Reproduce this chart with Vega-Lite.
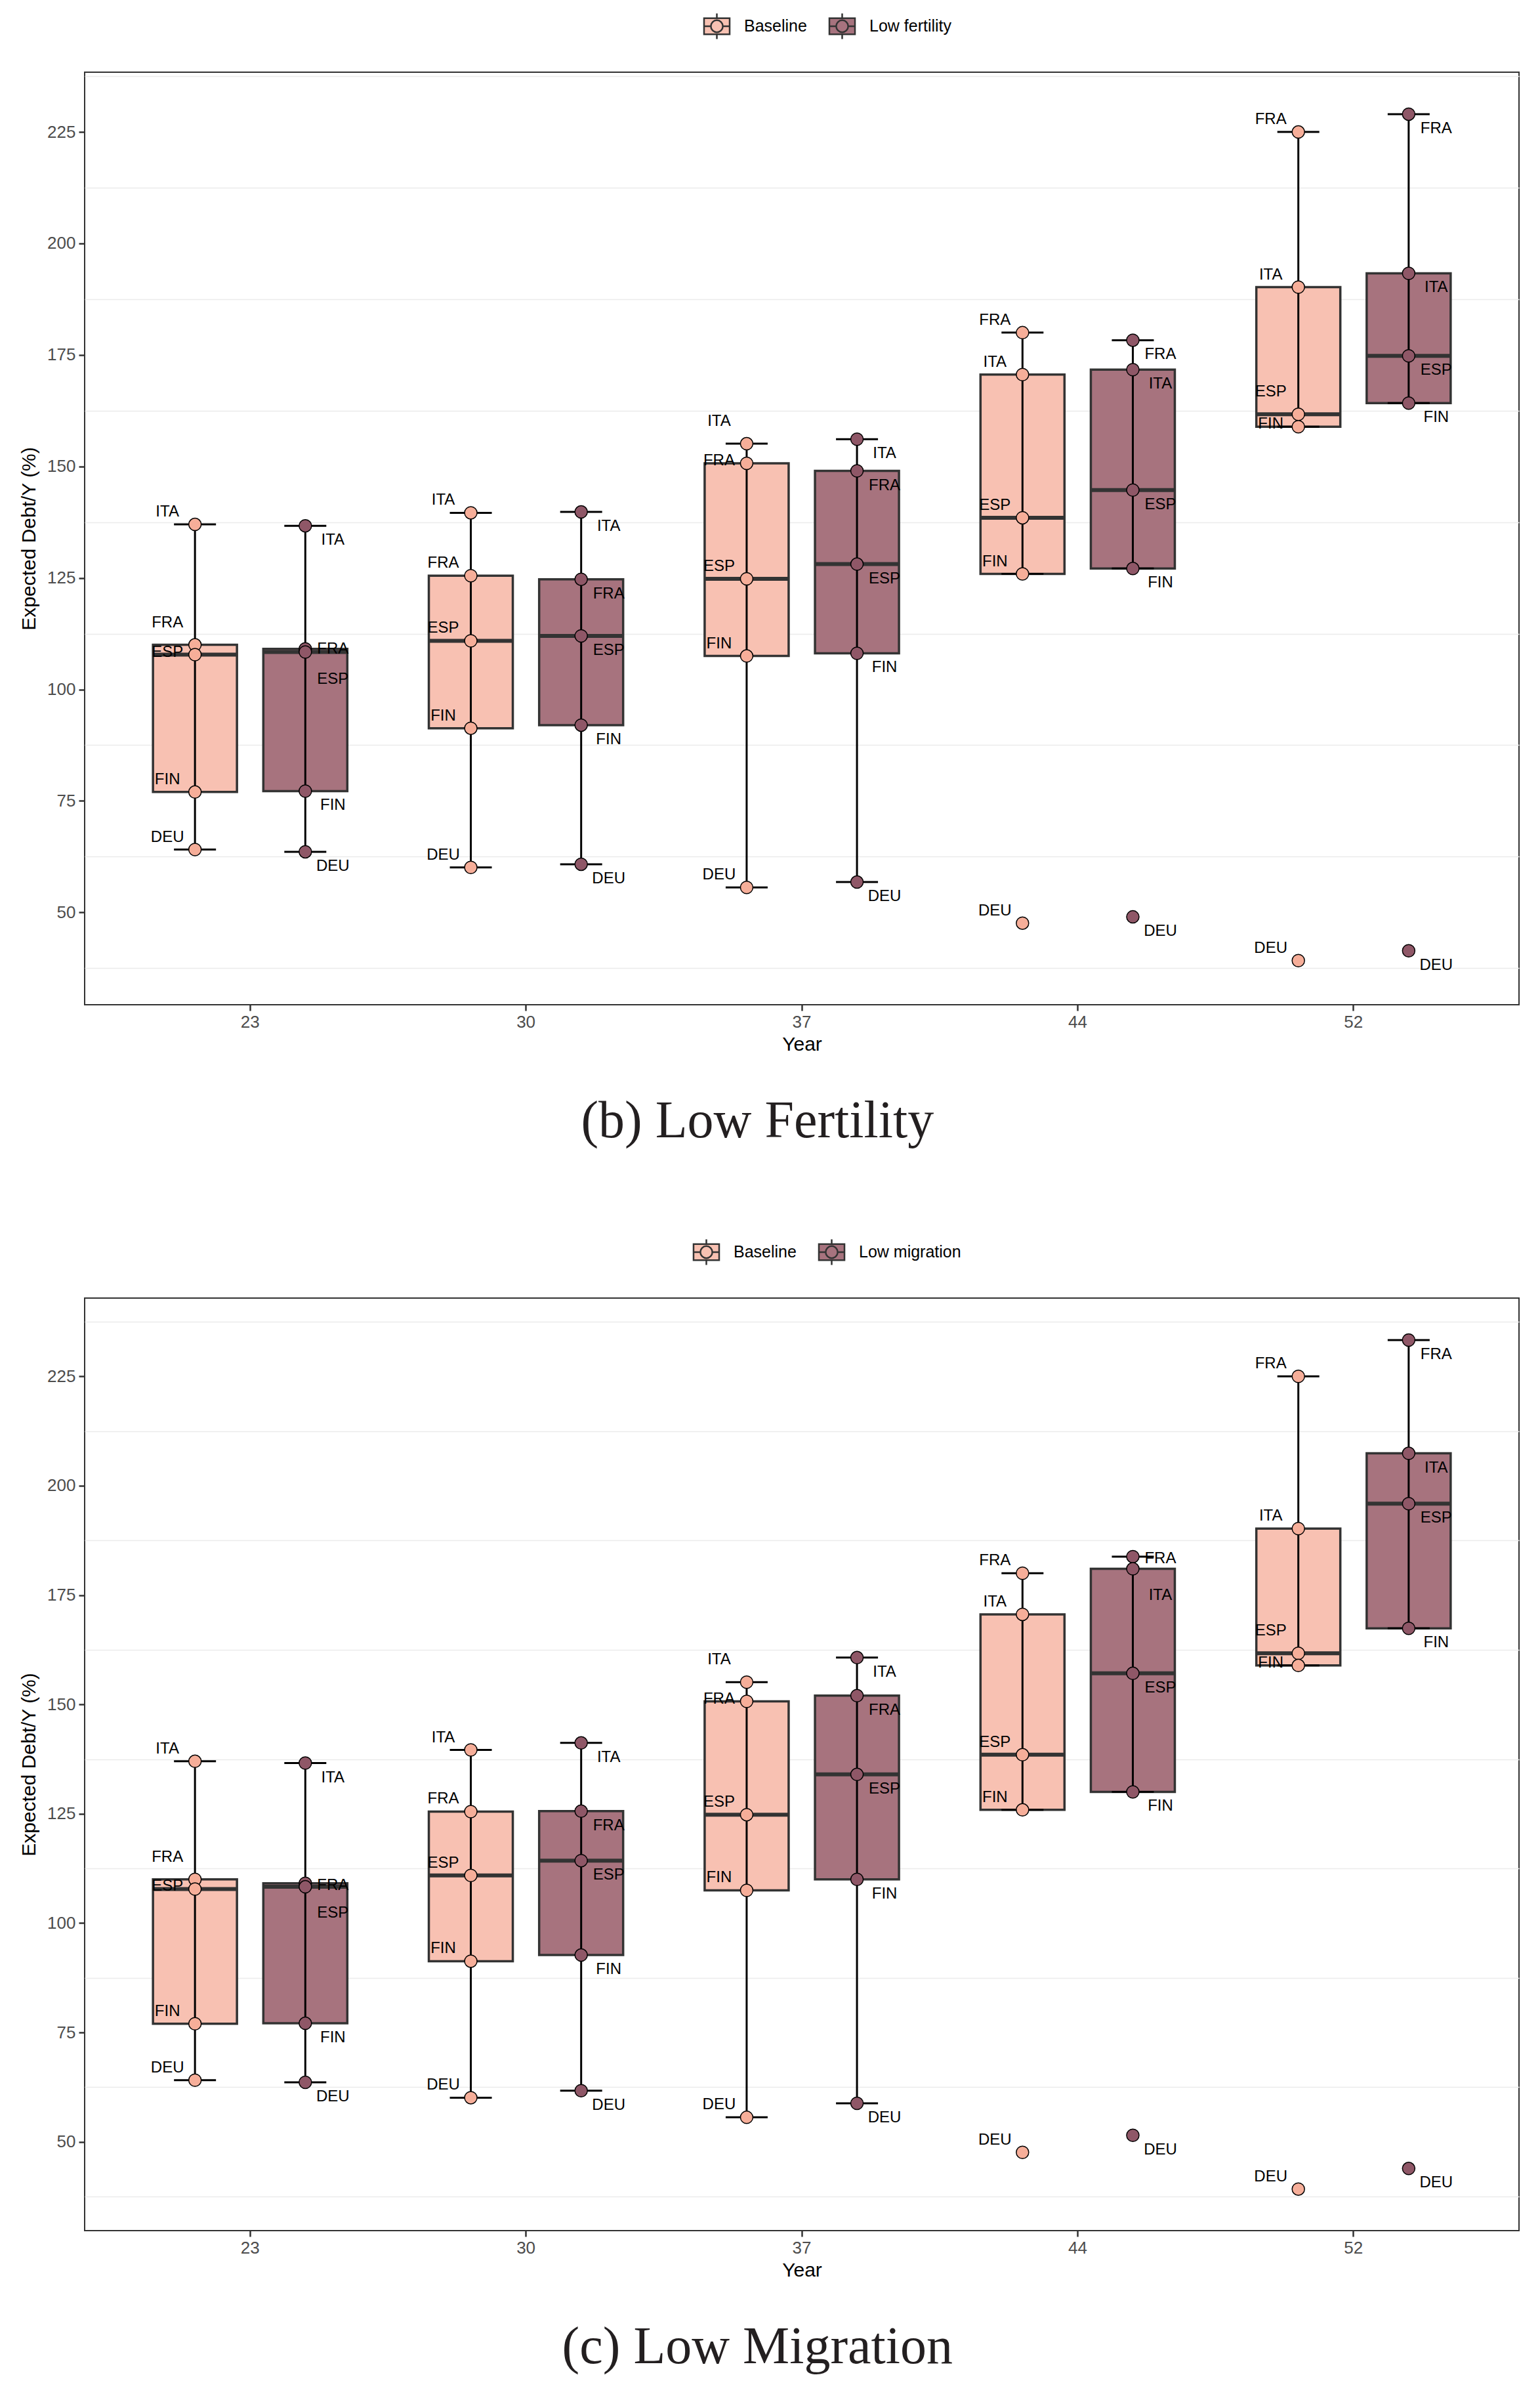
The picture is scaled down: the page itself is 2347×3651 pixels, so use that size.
{
  "$schema": "https://vega.github.io/schema/vega-lite/v6.json",
  "background": "white",
  "padding": {"left": 28, "top": 25, "right": 10, "bottom": 10},
  "spacing": 143,
  "config": {
    "font": "Liberation Sans",
    "view": {"stroke": "#333333", "strokeWidth": 2},
    "axisX": {"labelAngle": 0, "domain": false, "grid": false, "tickColor": "#333333", "tickSize": 9, "tickWidth": 2.5, "labelFontSize": 26, "labelColor": "#4D4D4D", "labelPadding": 4, "titleFontSize": 30, "titleFontWeight": "normal", "titleColor": "black", "titlePadding": 6},
    "axisY": {"domain": false, "grid": true, "gridColor": "#EBEBEB", "gridWidth": 1.5, "tickColor": "#333333", "tickSize": 9, "tickWidth": 2.5, "labelFontSize": 26, "labelColor": "#4D4D4D", "labelPadding": 5, "labelOverlap": false, "labelFlush": false, "titleFontSize": 30, "titleFontWeight": "normal", "titleColor": "black", "titlePadding": 12},
    "title": {"font": "Liberation Serif", "fontSize": 80, "fontWeight": "normal", "color": "#231F20", "orient": "bottom", "anchor": "middle", "frame": "bounds", "offset": 64, "dx": -18},
    "text": {"fontSize": 24, "font": "Liberation Sans", "color": "black"}
  },
  "datasets": {
    "fert": [
      {"year": "23", "scenario": "Baseline", "country": "ITA", "value": 137.0},
      {"year": "23", "scenario": "Baseline", "country": "FRA", "value": 110.0},
      {"year": "23", "scenario": "Baseline", "country": "ESP", "value": 107.8},
      {"year": "23", "scenario": "Baseline", "country": "FIN", "value": 77.0},
      {"year": "23", "scenario": "Baseline", "country": "DEU", "value": 64.1},
      {"year": "30", "scenario": "Baseline", "country": "ITA", "value": 139.6},
      {"year": "30", "scenario": "Baseline", "country": "FRA", "value": 125.5},
      {"year": "30", "scenario": "Baseline", "country": "ESP", "value": 110.9},
      {"year": "30", "scenario": "Baseline", "country": "FIN", "value": 91.3},
      {"year": "30", "scenario": "Baseline", "country": "DEU", "value": 60.1},
      {"year": "37", "scenario": "Baseline", "country": "ITA", "value": 155.1},
      {"year": "37", "scenario": "Baseline", "country": "FRA", "value": 150.7},
      {"year": "37", "scenario": "Baseline", "country": "ESP", "value": 124.8},
      {"year": "37", "scenario": "Baseline", "country": "FIN", "value": 107.5},
      {"year": "37", "scenario": "Baseline", "country": "DEU", "value": 55.6},
      {"year": "44", "scenario": "Baseline", "country": "FRA", "value": 180.0},
      {"year": "44", "scenario": "Baseline", "country": "ITA", "value": 170.6},
      {"year": "44", "scenario": "Baseline", "country": "ESP", "value": 138.5},
      {"year": "44", "scenario": "Baseline", "country": "FIN", "value": 125.9},
      {"year": "44", "scenario": "Baseline", "country": "DEU", "value": 47.6},
      {"year": "52", "scenario": "Baseline", "country": "FRA", "value": 225.0},
      {"year": "52", "scenario": "Baseline", "country": "ITA", "value": 190.2},
      {"year": "52", "scenario": "Baseline", "country": "ESP", "value": 161.7},
      {"year": "52", "scenario": "Baseline", "country": "FIN", "value": 158.9},
      {"year": "52", "scenario": "Baseline", "country": "DEU", "value": 39.2},
      {"year": "23", "scenario": "Low fertility", "country": "ITA", "value": 136.7},
      {"year": "23", "scenario": "Low fertility", "country": "FRA", "value": 109.1},
      {"year": "23", "scenario": "Low fertility", "country": "ESP", "value": 108.4},
      {"year": "23", "scenario": "Low fertility", "country": "FIN", "value": 77.2},
      {"year": "23", "scenario": "Low fertility", "country": "DEU", "value": 63.6},
      {"year": "30", "scenario": "Low fertility", "country": "ITA", "value": 139.8},
      {"year": "30", "scenario": "Low fertility", "country": "FRA", "value": 124.7},
      {"year": "30", "scenario": "Low fertility", "country": "ESP", "value": 112.0},
      {"year": "30", "scenario": "Low fertility", "country": "FIN", "value": 92.0},
      {"year": "30", "scenario": "Low fertility", "country": "DEU", "value": 60.8},
      {"year": "37", "scenario": "Low fertility", "country": "ITA", "value": 156.1},
      {"year": "37", "scenario": "Low fertility", "country": "FRA", "value": 149.0},
      {"year": "37", "scenario": "Low fertility", "country": "ESP", "value": 128.1},
      {"year": "37", "scenario": "Low fertility", "country": "FIN", "value": 108.1},
      {"year": "37", "scenario": "Low fertility", "country": "DEU", "value": 56.8},
      {"year": "44", "scenario": "Low fertility", "country": "FRA", "value": 178.3},
      {"year": "44", "scenario": "Low fertility", "country": "ITA", "value": 171.7},
      {"year": "44", "scenario": "Low fertility", "country": "ESP", "value": 144.7},
      {"year": "44", "scenario": "Low fertility", "country": "FIN", "value": 127.1},
      {"year": "44", "scenario": "Low fertility", "country": "DEU", "value": 49.0},
      {"year": "52", "scenario": "Low fertility", "country": "FRA", "value": 229.0},
      {"year": "52", "scenario": "Low fertility", "country": "ITA", "value": 193.3},
      {"year": "52", "scenario": "Low fertility", "country": "ESP", "value": 174.8},
      {"year": "52", "scenario": "Low fertility", "country": "FIN", "value": 164.2},
      {"year": "52", "scenario": "Low fertility", "country": "DEU", "value": 41.4}
    ],
    "mig": [
      {"year": "23", "scenario": "Baseline", "country": "ITA", "value": 137.0},
      {"year": "23", "scenario": "Baseline", "country": "FRA", "value": 110.0},
      {"year": "23", "scenario": "Baseline", "country": "ESP", "value": 107.8},
      {"year": "23", "scenario": "Baseline", "country": "FIN", "value": 77.0},
      {"year": "23", "scenario": "Baseline", "country": "DEU", "value": 64.1},
      {"year": "30", "scenario": "Baseline", "country": "ITA", "value": 139.6},
      {"year": "30", "scenario": "Baseline", "country": "FRA", "value": 125.5},
      {"year": "30", "scenario": "Baseline", "country": "ESP", "value": 110.9},
      {"year": "30", "scenario": "Baseline", "country": "FIN", "value": 91.3},
      {"year": "30", "scenario": "Baseline", "country": "DEU", "value": 60.1},
      {"year": "37", "scenario": "Baseline", "country": "ITA", "value": 155.1},
      {"year": "37", "scenario": "Baseline", "country": "FRA", "value": 150.7},
      {"year": "37", "scenario": "Baseline", "country": "ESP", "value": 124.8},
      {"year": "37", "scenario": "Baseline", "country": "FIN", "value": 107.5},
      {"year": "37", "scenario": "Baseline", "country": "DEU", "value": 55.6},
      {"year": "44", "scenario": "Baseline", "country": "FRA", "value": 180.0},
      {"year": "44", "scenario": "Baseline", "country": "ITA", "value": 170.6},
      {"year": "44", "scenario": "Baseline", "country": "ESP", "value": 138.5},
      {"year": "44", "scenario": "Baseline", "country": "FIN", "value": 125.9},
      {"year": "44", "scenario": "Baseline", "country": "DEU", "value": 47.6},
      {"year": "52", "scenario": "Baseline", "country": "FRA", "value": 225.0},
      {"year": "52", "scenario": "Baseline", "country": "ITA", "value": 190.2},
      {"year": "52", "scenario": "Baseline", "country": "ESP", "value": 161.7},
      {"year": "52", "scenario": "Baseline", "country": "FIN", "value": 158.9},
      {"year": "52", "scenario": "Baseline", "country": "DEU", "value": 39.2},
      {"year": "23", "scenario": "Low migration", "country": "ITA", "value": 136.6},
      {"year": "23", "scenario": "Low migration", "country": "FRA", "value": 109.1},
      {"year": "23", "scenario": "Low migration", "country": "ESP", "value": 108.3},
      {"year": "23", "scenario": "Low migration", "country": "FIN", "value": 77.1},
      {"year": "23", "scenario": "Low migration", "country": "DEU", "value": 63.6},
      {"year": "30", "scenario": "Low migration", "country": "ITA", "value": 141.2},
      {"year": "30", "scenario": "Low migration", "country": "FRA", "value": 125.6},
      {"year": "30", "scenario": "Low migration", "country": "ESP", "value": 114.3},
      {"year": "30", "scenario": "Low migration", "country": "FIN", "value": 92.7},
      {"year": "30", "scenario": "Low migration", "country": "DEU", "value": 61.7},
      {"year": "37", "scenario": "Low migration", "country": "ITA", "value": 160.7},
      {"year": "37", "scenario": "Low migration", "country": "FRA", "value": 152.0},
      {"year": "37", "scenario": "Low migration", "country": "ESP", "value": 134.0},
      {"year": "37", "scenario": "Low migration", "country": "FIN", "value": 110.0},
      {"year": "37", "scenario": "Low migration", "country": "DEU", "value": 58.8},
      {"year": "44", "scenario": "Low migration", "country": "FRA", "value": 183.8},
      {"year": "44", "scenario": "Low migration", "country": "ITA", "value": 181.0},
      {"year": "44", "scenario": "Low migration", "country": "ESP", "value": 157.1},
      {"year": "44", "scenario": "Low migration", "country": "FIN", "value": 130.0},
      {"year": "44", "scenario": "Low migration", "country": "DEU", "value": 51.5},
      {"year": "52", "scenario": "Low migration", "country": "FRA", "value": 233.3},
      {"year": "52", "scenario": "Low migration", "country": "ITA", "value": 207.4},
      {"year": "52", "scenario": "Low migration", "country": "ESP", "value": 195.9},
      {"year": "52", "scenario": "Low migration", "country": "FIN", "value": 167.4},
      {"year": "52", "scenario": "Low migration", "country": "DEU", "value": 43.9}
    ]
  },
  "resolve": {"scale": {"color": "independent", "fill": "independent", "y": "independent", "x": "independent", "xOffset": "independent"}, "legend": {"color": "independent"}},
  "vconcat": [
    {
      "data": {"name": "fert"},
      "width": 2186,
      "height": 1421,
      "title": {"text": "(b) Low Fertility"},
      "encoding": {
        "x": {"field": "year", "type": "nominal", "sort": ["23", "30", "37", "44", "52"], "scale": {"paddingInner": 0.2, "paddingOuter": 0.2}, "title": "Year"},
        "xOffset": {"field": "scenario", "type": "nominal", "scale": {"paddingInner": 0, "paddingOuter": 0}}
      },
      "layer": [
        {
          "transform": [{"aggregate": [{"op": "q1", "field": "value", "as": "lo"}, {"op": "q3", "field": "value", "as": "hi"}], "groupby": ["year", "scenario"]}],
          "mark": {"type": "bar", "size": 128, "stroke": "#333333", "strokeWidth": 3.5},
          "encoding": {
            "y": {"field": "lo", "type": "quantitative", "scale": {"domain": [29.3, 238.4], "nice": false, "zero": false}, "title": "Expected Debt/Y (%)",
              "axis": {"values": [37.5, 50, 62.5, 75, 87.5, 100, 112.5, 125, 137.5, 150, 162.5, 175, 187.5, 200, 212.5, 225, 237.5], "labelExpr": "datum.value % 25 === 0 ? datum.label : ''", "gridOpacity": {"condition": {"test": "datum.value % 25 === 0", "value": 0}, "value": 1}, "tickOpacity": {"condition": {"test": "datum.value % 25 === 0", "value": 1}, "value": 0}}},
            "y2": {"field": "hi"},
            "color": {"field": "scenario", "type": "nominal", "scale": {"range": ["#F8C1B2", "#A7737E"]},
              "legend": {"orient": "none", "legendX": 950, "legendY": -84, "direction": "horizontal", "title": null, "symbolType": "M-1.6,-1H1.6V1H-1.6Z M0,-0.75A0.75,0.75 0 1 1 0,0.75A0.75,0.75 0 1 1 0,-0.75Z M0,-1.6V-1 M0,1V1.6 M-1.6,0H-0.75 M0.75,0H1.6", "symbolSize": 595, "symbolStrokeColor": "#333333", "symbolStrokeWidth": 2.5, "symbolOpacity": 1, "labelFontSize": 25, "labelFont": "Liberation Sans", "labelColor": "black", "labelOffset": 28, "columnPadding": 28, "padding": 0}}
          }
        },
        {
          "transform": [
            {"joinaggregate": [{"op": "q1", "field": "value", "as": "q1"}, {"op": "q3", "field": "value", "as": "q3"}], "groupby": ["year", "scenario"]},
            {"filter": "datum.value >= datum.q1 - 1.5 * (datum.q3 - datum.q1) && datum.value <= datum.q3 + 1.5 * (datum.q3 - datum.q1)"},
            {"aggregate": [{"op": "min", "field": "value", "as": "lo"}, {"op": "max", "field": "value", "as": "hi"}], "groupby": ["year", "scenario"]}
          ],
          "mark": {"type": "rule", "strokeWidth": 3, "color": "black"},
          "encoding": {"y": {"field": "lo", "type": "quantitative"}, "y2": {"field": "hi"}}
        },
        {
          "transform": [{"aggregate": [{"op": "median", "field": "value", "as": "med"}], "groupby": ["year", "scenario"]}],
          "mark": {"type": "tick", "size": 128, "thickness": 6, "color": "#333333", "opacity": 1},
          "encoding": {"y": {"field": "med", "type": "quantitative"}}
        },
        {
          "transform": [
            {"joinaggregate": [{"op": "q1", "field": "value", "as": "q1"}, {"op": "q3", "field": "value", "as": "q3"}], "groupby": ["year", "scenario"]},
            {"filter": "datum.value >= datum.q1 - 1.5 * (datum.q3 - datum.q1) && datum.value <= datum.q3 + 1.5 * (datum.q3 - datum.q1)"},
            {"aggregate": [{"op": "min", "field": "value", "as": "lo"}, {"op": "max", "field": "value", "as": "hi"}], "groupby": ["year", "scenario"]},
            {"fold": ["lo", "hi"], "as": ["end", "v"]}
          ],
          "mark": {"type": "tick", "size": 64, "thickness": 3, "color": "black", "opacity": 1},
          "encoding": {"y": {"field": "v", "type": "quantitative"}}
        },
        {
          "mark": {"type": "circle", "size": 361, "stroke": "black", "strokeWidth": 1.5, "opacity": 1},
          "encoding": {
            "y": {"field": "value", "type": "quantitative"},
            "fill": {"field": "scenario", "type": "nominal", "scale": {"range": ["#F6AE99", "#8F5767"]}, "legend": null}
          }
        },
        {
          "transform": [{"filter": "datum.scenario === 'Baseline' && !((datum.year === '23' && (datum.country === 'FRA' || datum.country === 'ESP')) || (datum.year === '37' && (datum.country === 'ITA' || datum.country === 'FRA')) || (datum.year === '52' && (datum.country === 'ESP' || datum.country === 'FIN')))"}],
          "mark": {"type": "text", "dx": -42, "dy": -19},
          "encoding": {"y": {"field": "value", "type": "quantitative"}, "text": {"field": "country"}}
        },
        {
          "transform": [{"filter": "datum.scenario === 'Baseline' && ((datum.year === '23' && datum.country === 'FRA') || (datum.year === '37' && datum.country === 'ITA') || (datum.year === '52' && datum.country === 'ESP'))"}],
          "mark": {"type": "text", "dx": -42, "dy": -34},
          "encoding": {"y": {"field": "value", "type": "quantitative"}, "text": {"field": "country"}}
        },
        {
          "transform": [{"filter": "datum.scenario === 'Baseline' && ((datum.year === '23' && datum.country === 'ESP') || (datum.year === '37' && datum.country === 'FRA') || (datum.year === '52' && datum.country === 'FIN'))"}],
          "mark": {"type": "text", "dx": -42, "dy": -4},
          "encoding": {"y": {"field": "value", "type": "quantitative"}, "text": {"field": "country"}}
        },
        {
          "transform": [{"filter": "datum.scenario !== 'Baseline' && !(datum.year === '23' && (datum.country === 'FRA' || datum.country === 'ESP'))"}],
          "mark": {"type": "text", "dx": 42, "dy": 22},
          "encoding": {"y": {"field": "value", "type": "quantitative"}, "text": {"field": "country"}}
        },
        {
          "transform": [{"filter": "datum.scenario !== 'Baseline' && datum.year === '23' && datum.country === 'FRA'"}],
          "mark": {"type": "text", "dx": 42, "dy": 0},
          "encoding": {"y": {"field": "value", "type": "quantitative"}, "text": {"field": "country"}}
        },
        {
          "transform": [{"filter": "datum.scenario !== 'Baseline' && datum.year === '23' && datum.country === 'ESP'"}],
          "mark": {"type": "text", "dx": 42, "dy": 42},
          "encoding": {"y": {"field": "value", "type": "quantitative"}, "text": {"field": "country"}}
        }
      ]
    },
    {
      "data": {"name": "mig"},
      "width": 2186,
      "height": 1421,
      "title": {"text": "(c) Low Migration"},
      "encoding": {
        "x": {"field": "year", "type": "nominal", "sort": ["23", "30", "37", "44", "52"], "scale": {"paddingInner": 0.2, "paddingOuter": 0.2}, "title": "Year"},
        "xOffset": {"field": "scenario", "type": "nominal", "scale": {"paddingInner": 0, "paddingOuter": 0}}
      },
      "layer": [
        {
          "transform": [{"aggregate": [{"op": "q1", "field": "value", "as": "lo"}, {"op": "q3", "field": "value", "as": "hi"}], "groupby": ["year", "scenario"]}],
          "mark": {"type": "bar", "size": 128, "stroke": "#333333", "strokeWidth": 3.5},
          "encoding": {
            "y": {"field": "lo", "type": "quantitative", "scale": {"domain": [29.7, 242.9], "nice": false, "zero": false}, "title": "Expected Debt/Y (%)",
              "axis": {"values": [37.5, 50, 62.5, 75, 87.5, 100, 112.5, 125, 137.5, 150, 162.5, 175, 187.5, 200, 212.5, 225, 237.5], "labelExpr": "datum.value % 25 === 0 ? datum.label : ''", "gridOpacity": {"condition": {"test": "datum.value % 25 === 0", "value": 0}, "value": 1}, "tickOpacity": {"condition": {"test": "datum.value % 25 === 0", "value": 1}, "value": 0}}},
            "y2": {"field": "hi"},
            "color": {"field": "scenario", "type": "nominal", "scale": {"range": ["#F8C1B2", "#A7737E"]},
              "legend": {"orient": "none", "legendX": 934, "legendY": -84, "direction": "horizontal", "title": null, "symbolType": "M-1.6,-1H1.6V1H-1.6Z M0,-0.75A0.75,0.75 0 1 1 0,0.75A0.75,0.75 0 1 1 0,-0.75Z M0,-1.6V-1 M0,1V1.6 M-1.6,0H-0.75 M0.75,0H1.6", "symbolSize": 595, "symbolStrokeColor": "#333333", "symbolStrokeWidth": 2.5, "symbolOpacity": 1, "labelFontSize": 25, "labelFont": "Liberation Sans", "labelColor": "black", "labelOffset": 28, "columnPadding": 28, "padding": 0}}
          }
        },
        {
          "transform": [
            {"joinaggregate": [{"op": "q1", "field": "value", "as": "q1"}, {"op": "q3", "field": "value", "as": "q3"}], "groupby": ["year", "scenario"]},
            {"filter": "datum.value >= datum.q1 - 1.5 * (datum.q3 - datum.q1) && datum.value <= datum.q3 + 1.5 * (datum.q3 - datum.q1)"},
            {"aggregate": [{"op": "min", "field": "value", "as": "lo"}, {"op": "max", "field": "value", "as": "hi"}], "groupby": ["year", "scenario"]}
          ],
          "mark": {"type": "rule", "strokeWidth": 3, "color": "black"},
          "encoding": {"y": {"field": "lo", "type": "quantitative"}, "y2": {"field": "hi"}}
        },
        {
          "transform": [{"aggregate": [{"op": "median", "field": "value", "as": "med"}], "groupby": ["year", "scenario"]}],
          "mark": {"type": "tick", "size": 128, "thickness": 6, "color": "#333333", "opacity": 1},
          "encoding": {"y": {"field": "med", "type": "quantitative"}}
        },
        {
          "transform": [
            {"joinaggregate": [{"op": "q1", "field": "value", "as": "q1"}, {"op": "q3", "field": "value", "as": "q3"}], "groupby": ["year", "scenario"]},
            {"filter": "datum.value >= datum.q1 - 1.5 * (datum.q3 - datum.q1) && datum.value <= datum.q3 + 1.5 * (datum.q3 - datum.q1)"},
            {"aggregate": [{"op": "min", "field": "value", "as": "lo"}, {"op": "max", "field": "value", "as": "hi"}], "groupby": ["year", "scenario"]},
            {"fold": ["lo", "hi"], "as": ["end", "v"]}
          ],
          "mark": {"type": "tick", "size": 64, "thickness": 3, "color": "black", "opacity": 1},
          "encoding": {"y": {"field": "v", "type": "quantitative"}}
        },
        {
          "mark": {"type": "circle", "size": 361, "stroke": "black", "strokeWidth": 1.5, "opacity": 1},
          "encoding": {
            "y": {"field": "value", "type": "quantitative"},
            "fill": {"field": "scenario", "type": "nominal", "scale": {"range": ["#F6AE99", "#8F5767"]}, "legend": null}
          }
        },
        {
          "transform": [{"filter": "datum.scenario === 'Baseline' && !((datum.year === '23' && (datum.country === 'FRA' || datum.country === 'ESP')) || (datum.year === '37' && (datum.country === 'ITA' || datum.country === 'FRA')) || (datum.year === '52' && (datum.country === 'ESP' || datum.country === 'FIN')))"}],
          "mark": {"type": "text", "dx": -42, "dy": -19},
          "encoding": {"y": {"field": "value", "type": "quantitative"}, "text": {"field": "country"}}
        },
        {
          "transform": [{"filter": "datum.scenario === 'Baseline' && ((datum.year === '23' && datum.country === 'FRA') || (datum.year === '37' && datum.country === 'ITA') || (datum.year === '52' && datum.country === 'ESP'))"}],
          "mark": {"type": "text", "dx": -42, "dy": -34},
          "encoding": {"y": {"field": "value", "type": "quantitative"}, "text": {"field": "country"}}
        },
        {
          "transform": [{"filter": "datum.scenario === 'Baseline' && ((datum.year === '23' && datum.country === 'ESP') || (datum.year === '37' && datum.country === 'FRA') || (datum.year === '52' && datum.country === 'FIN'))"}],
          "mark": {"type": "text", "dx": -42, "dy": -4},
          "encoding": {"y": {"field": "value", "type": "quantitative"}, "text": {"field": "country"}}
        },
        {
          "transform": [{"filter": "datum.scenario !== 'Baseline' && !((datum.year === '23' || datum.year === '44') && (datum.country === 'FRA' || datum.country === 'ESP' || datum.country === 'ITA'))"}],
          "mark": {"type": "text", "dx": 42, "dy": 22},
          "encoding": {"y": {"field": "value", "type": "quantitative"}, "text": {"field": "country"}}
        },
        {
          "transform": [{"filter": "datum.scenario !== 'Baseline' && ((datum.year === '23' && datum.country === 'ITA') || (datum.year === '44' && datum.country === 'ESP'))"}],
          "mark": {"type": "text", "dx": 42, "dy": 22},
          "encoding": {"y": {"field": "value", "type": "quantitative"}, "text": {"field": "country"}}
        },
        {
          "transform": [{"filter": "datum.scenario !== 'Baseline' && (datum.year === '23' || datum.year === '44') && datum.country === 'FRA'"}],
          "mark": {"type": "text", "dx": 42, "dy": 3},
          "encoding": {"y": {"field": "value", "type": "quantitative"}, "text": {"field": "country"}}
        },
        {
          "transform": [{"filter": "datum.scenario !== 'Baseline' && ((datum.year === '23' && datum.country === 'ESP') || (datum.year === '44' && datum.country === 'ITA'))"}],
          "mark": {"type": "text", "dx": 42, "dy": 40},
          "encoding": {"y": {"field": "value", "type": "quantitative"}, "text": {"field": "country"}}
        }
      ]
    }
  ]
}
